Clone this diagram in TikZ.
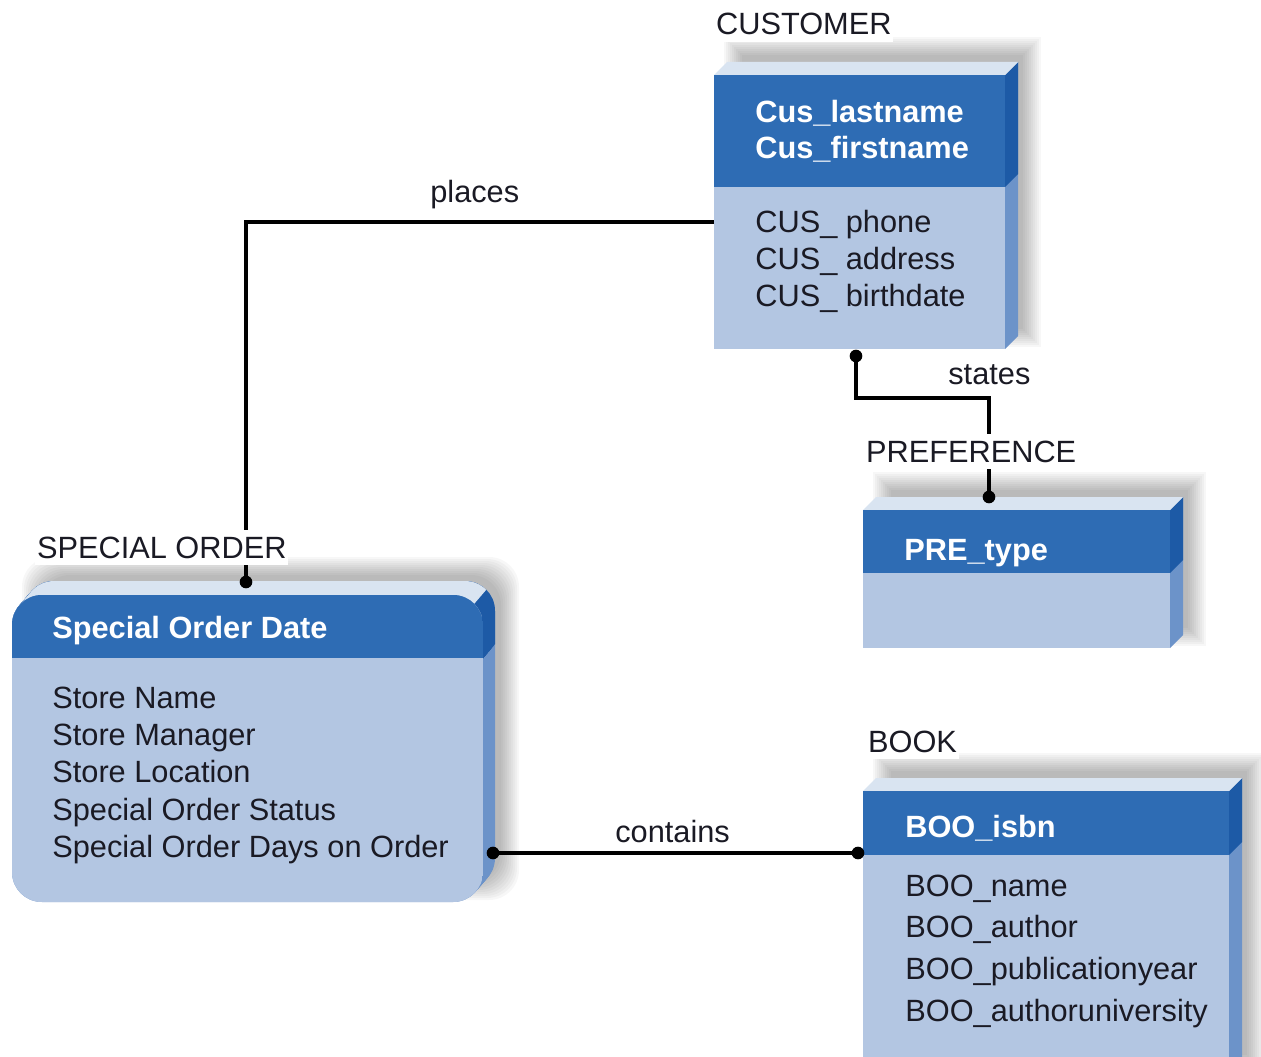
\documentclass[tikz,border=0pt]{standalone}
\usepackage{fontspec}
\setmainfont{Liberation Sans}

\definecolor{erTesta}{HTML}{2E6CB4}
\definecolor{erCorpo}{HTML}{B3C6E2}
\definecolor{erLatoTesta}{HTML}{1D5AA6}
\definecolor{erLatoCorpo}{HTML}{6C93C9}
\definecolor{erTetto}{HTML}{D9E4F1}
\definecolor{erTesto}{HTML}{1A1A24}

% Scatola squadrata: #1 sinistra, #2 alto, #3 destra, #4 fine testata, #5 fondo.
\newcommand{\entitascatola}[5]{%
  \foreach \k in {1,...,10}{
    \fill[black,opacity=.03] (#1+8+2*\k,#2-40+2*\k) rectangle (#3+38-2*\k,#5-2*\k);
  }
  \path[fill=erLatoCorpo] (#3,#2) -- (#3+13,#2-13) -- (#3+13,#5-13) -- (#3,#5) -- cycle;
  \path[fill=erLatoTesta] (#3,#2) -- (#3+13,#2-13) -- (#3+13,#4-13) -- (#3,#4) -- cycle;
  \path[fill=erTetto] (#1,#2) -- (#1+13,#2-13) -- (#3+13,#2-13) -- (#3,#2) -- cycle;
  \fill[erCorpo] (#1,#4) rectangle (#3,#5);
  \fill[erTesta] (#1,#2) rectangle (#3,#4);
}

\begin{document}
\begin{tikzpicture}[x=.02cm,y=-.02cm,
  attributo/.style={anchor=base west,inner sep=0pt,text=erTesto,
    font=\fontsize{17.5}{21}\selectfont},
  chiave/.style={anchor=base west,inner sep=0pt,text=white,
    font=\fontsize{17.5}{21}\selectfont\bfseries},
  entita/.style={anchor=base west,fill=white,inner xsep=1pt,inner ysep=4pt,
    text=erTesto,font=\fontsize{17.5}{21}\selectfont},
  relazione/.style={draw=black,line width=2pt}]
  \useasboundingbox (0,0) rectangle (1261,1057);
  \clip (0,0) rectangle (1261,1057);

  \entitascatola{714}{75}{1005}{187}{349}
  \entitascatola{863}{510}{1170}{573}{648}
  \entitascatola{863}{791}{1229}{855}{1075}

  % Ordine speciale: angoli arrotondati, estrusione a passi.
  \foreach \k in {1,...,10}{
    \fill[black,opacity=.03,rounded corners=17pt] (20+2*\k,555+2*\k) rectangle (521-2*\k,902-2*\k);
  }
  \foreach \t in {0,...,12}{
    \fill[erLatoCorpo,rounded corners=17pt] (12+\t,595-\t*7/6) rectangle (483+\t,902-\t*7/6);
  }
  \begin{scope}
    \clip (0,658) -- (483,658) -- (495,644) -- (530,644) -- (530,500) -- (0,500) -- cycle;
    \foreach \t in {0,...,12}{
      \fill[erLatoTesta,rounded corners=17pt] (12+\t,595-\t*7/6) rectangle (483+\t,902-\t*7/6);
    }
  \end{scope}
  \path[fill=erTetto] (19.0,605.7) arc[start angle=220,end angle=270,radius=30]
    -- (453,595) arc[start angle=270,end angle=315,radius=30]
    -- ++(12,-14) arc[start angle=315,end angle=270,radius=30]
    -- (54,581) arc[start angle=270,end angle=220,radius=30] -- cycle;
  \begin{scope}
    \clip[rounded corners=17pt] (12,595) rectangle (483,902);
    \fill[erCorpo] (12,595) rectangle (483,902);
    \fill[erTesta] (12,595) rectangle (483,658);
  \end{scope}

  % Punti di aggancio delle relazioni.
  \coordinate (clienteOvest) at (714,222);
  \coordinate (ordineNord) at (246,582);
  \coordinate (clienteSud) at (856,356);
  \coordinate (preferenzaNord) at (989,497);
  \coordinate (ordineEst) at (493,853);
  \coordinate (libroOvest) at (858,853);

  \draw[relazione] (clienteOvest) -| (ordineNord);
  \draw[relazione] (clienteSud) -- ++(0,42) -| (preferenzaNord);
  \draw[relazione] (ordineEst) -- (libroOvest);
  \foreach \p in {ordineNord,clienteSud,preferenzaNord,ordineEst,libroOvest}{
    \fill (\p) circle (3.6pt);
  }

  \node[attributo] (places) at (430,203) {places};
  \node[attributo] (states) at (948,385) {states};
  \node[attributo] (contains) at (615,842) {contains};

  \node[entita] (cliente) at (714,35) {CUSTOMER};
  \node[entita] (preferenza) at (864,462) {PREFERENCE};
  \node[entita] (ordine) at (35,558) {SPECIAL ORDER};
  \node[entita] (libro) at (866,752) {BOOK};

  \node[chiave] (cusChiave1) at (755,123) {Cus\_lastname};
  \node[chiave] (cusChiave2) at (755,159) {Cus\_firstname};
  \foreach \testo [count=\i] in {CUS\_ phone,CUS\_ address,CUS\_ birthdate}{
    \node[attributo] (cus\i) at (755,196+37*\i) {\testo};
  }

  \node[chiave] (preChiave) at (904,560) {PRE\_type};

  \node[chiave] (ordChiave) at (52,638) {Special Order Date};
  \foreach \testo [count=\i] in {Store Name,Store Manager,Store Location,
      Special Order Status,Special Order Days on Order}{
    \node[attributo] (ord\i) at (52,671+37.25*\i) {\testo};
  }

  \node[chiave] (booChiave) at (905,837) {BOO\_isbn};
  \foreach \testo [count=\i] in {BOO\_name,BOO\_author,BOO\_publicationyear,
      BOO\_authoruniversity}{
    \node[attributo] (boo\i) at (905,854.5+41.7*\i) {\testo};
  }
\end{tikzpicture}
\end{document}
